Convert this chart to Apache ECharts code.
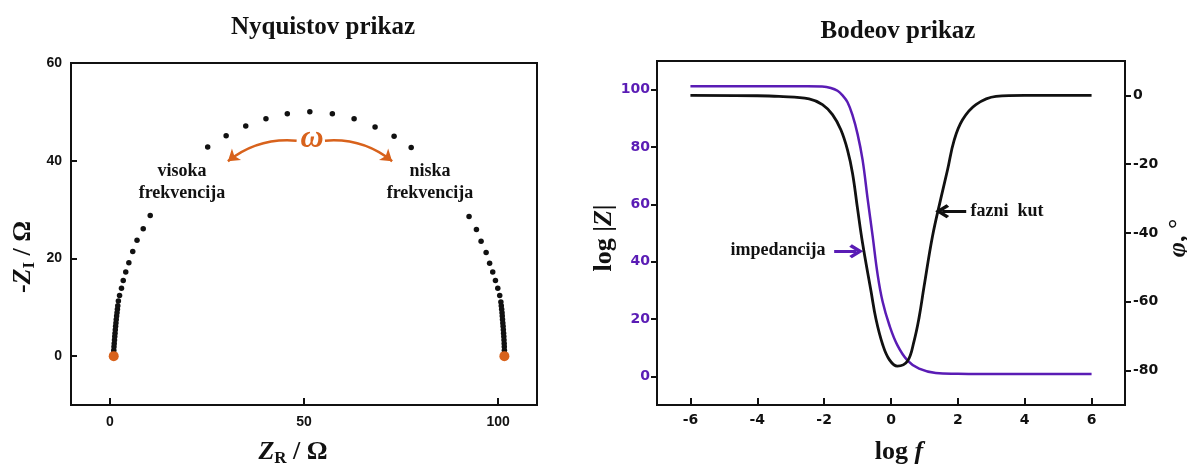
<!DOCTYPE html>
<html>
<head>
<meta charset="utf-8">
<script src="https://cdn.jsdelivr.net/npm/echarts@6/dist/echarts.min.js"></script>
<style>
html, body { margin: 0; padding: 0; background: #fff; }
#chart { width: 1187px; height: 466px; }
</style>
</head>
<body>
<div id="chart"></div>
<script>
// Nyquistov prikaz - tocke (Z_R / Ω, -Z_I / Ω)
var nyqZr = [1.0, 1.02, 1.07, 1.13, 1.2, 1.27, 1.34, 1.41, 1.49, 1.57, 1.65, 1.75, 1.85, 1.95, 2.05,
  2.2, 2.5, 3.0, 3.45, 4.1, 4.9, 5.9, 7.0, 8.6, 10.4,
  25.2, 29.95, 35.0, 40.2, 45.7, 51.5, 57.3, 62.9, 68.3, 73.2, 77.6,
  92.5, 94.4, 95.6, 96.9, 97.8, 98.6, 99.3, 99.9, 100.4, 100.7,
  100.8, 100.9, 101.0, 101.05, 101.12, 101.2, 101.27, 101.33, 101.4, 101.45, 101.5, 101.55, 101.58, 101.6, 101.6];
var nyqZi = [0.6, 1.2, 1.9, 2.6, 3.3, 4.0, 4.7, 5.4, 6.1, 6.8, 7.5, 8.2, 8.9, 9.6, 10.3,
  11.3, 12.4, 13.9, 15.5, 17.2, 19.1, 21.4, 23.7, 26.1, 28.8,
  42.8, 45.1, 47.1, 48.6, 49.6, 50.0, 49.6, 48.6, 46.9, 45.0, 42.7,
  28.6, 25.9, 23.5, 21.2, 19.0, 17.2, 15.5, 13.9, 12.4, 11.1,
  10.3, 9.6, 8.9, 8.2, 7.5, 6.8, 6.1, 5.4, 4.7, 4.0, 3.3, 2.6, 1.9, 1.2, 0.6];
var nyqEndZr = [1.0, 101.6];
var nyqEndZi = [0, 0];

// Bodeov prikaz
var impLogF = [-6, -4, -3, -2.5, -2.06, -1.8, -1.6, -1.45, -1.3, -1.15, -1.0, -0.85, -0.7, -0.55, -0.4, -0.25,
  -0.05, 0.19, 0.49, 0.84, 1.34, 2.0, 2.64, 4, 6];
var impLogZ = [101.2, 101.2, 101.2, 101.2, 101.1, 100.6, 99.6, 98.0, 95.6, 91.0, 84.5, 75.5, 62.0, 49.0, 35.5, 26.0,
  17.9, 10.9, 5.6, 2.7, 1.2, 0.9, 0.8, 0.8, 0.8];
var phaseLogF = [-6, -4, -3.35, -2.45, -2.05, -1.75, -1.5, -1.3, -1.15, -1.0, -0.85, -0.6, -0.45, -0.25,
  -0.05, 0.19, 0.49, 0.69, 0.84, 0.99, 1.24, 1.49, 1.69, 1.89, 2.14, 2.54, 3.14, 4, 6];
var phaseDeg = [0, -0.1, -0.3, -1.0, -2.7, -5.6, -10.0, -15.9, -22.7, -33.0, -43.0, -56.8, -65.0, -72.4,
  -76.8, -78.7, -77.3, -71.4, -64.6, -55.5, -41.0, -30.0, -21.7, -13.0, -7.1, -2.7, -0.3, 0, 0];

var nyqXTicks = [0, 50, 100];
var nyqYTicks = [0, 20, 40, 60];
var bodeXTicks = [-6, -4, -2, 0, 2, 4, 6];
var bodeZTicks = [0, 20, 40, 60, 80, 100];
var bodePhaseTicks = [-80, -60, -40, -20, 0];

var serif = '"Liberation Serif", "Times New Roman", serif';
var orange = '#d8621c';
var purple = '#5a1cb5';
var ink = '#111';

function pairs(xs, ys) {
  return xs.map(function (x, i) { return [x, ys[i]]; });
}

var rich = {
  n: { fontFamily: serif, fontWeight: 'bold', fontSize: 26, lineHeight: 30, color: ink, verticalAlign: 'middle' },
  i: { fontFamily: serif, fontWeight: 'bold', fontStyle: 'italic', fontSize: 26, lineHeight: 30, color: ink, verticalAlign: 'middle' },
  s: { fontFamily: serif, fontWeight: 'bold', fontSize: 17, lineHeight: 14, color: ink, verticalAlign: 'bottom' }
};

var chevron = 'path://M5,0 L10,7 L8.3,8.6 L5,4 L1.7,8.6 L0,7 Z';

var myChart = echarts.init(document.getElementById('chart'));

var option = {
  animation: false,
  backgroundColor: '#fff',
  grid: [
    { left: 71, right: 650, top: 63, bottom: 61, show: true, borderColor: ink, borderWidth: 2, outerBoundsMode: 'none' },
    { left: 657, right: 62, top: 61, bottom: 61, show: true, borderColor: ink, borderWidth: 2, outerBoundsMode: 'none' }
  ],
  xAxis: [
    {
      gridIndex: 0, type: 'value', min: -10, max: 110, interval: 10,
      name: '{i|Z}{s|R}{n| / Ω}', nameLocation: 'middle', nameGap: 32,
      nameTextStyle: { rich: rich, padding: [0, 22, 0, 0] },
      axisLine: { show: false, onZero: false },
      axisTick: { inside: true, length: 7, customValues: nyqXTicks, lineStyle: { color: ink, width: 2 } },
      axisLabel: { customValues: nyqXTicks, margin: 10, color: ink, fontFamily: '"Liberation Sans", Arial, sans-serif', fontWeight: 'bold', fontSize: 14 },
      splitLine: { show: false }
    },
    {
      gridIndex: 1, type: 'value', min: -7, max: 7, interval: 1,
      name: '{n|log }{i|f}', nameLocation: 'middle', nameGap: 32,
      nameTextStyle: { rich: rich, padding: [0, 0, 0, 16] },
      axisLine: { show: false, onZero: false },
      axisTick: { inside: true, length: 7, customValues: bodeXTicks, lineStyle: { color: ink, width: 2 } },
      axisLabel: { customValues: bodeXTicks, margin: 8, color: ink, fontFamily: '"DejaVu Sans", sans-serif', fontWeight: 'bold', fontSize: 14 },
      splitLine: { show: false }
    }
  ],
  yAxis: [
    {
      gridIndex: 0, type: 'value', min: -10, max: 60, interval: 10,
      name: '{n|-}{i|Z}{s|I}{n| / Ω}', nameLocation: 'middle', nameGap: 33, nameRotate: 90,
      nameTextStyle: { rich: rich, padding: [0, 46, 0, 0] },
      axisLine: { show: false, onZero: false },
      axisTick: { inside: true, length: 6, customValues: nyqYTicks, lineStyle: { color: ink, width: 2 } },
      axisLabel: { customValues: nyqYTicks, margin: 9, color: ink, fontFamily: '"Liberation Sans", Arial, sans-serif', fontWeight: 'bold', fontSize: 14 },
      splitLine: { show: false }
    },
    {
      gridIndex: 1, type: 'value', position: 'left', min: -10, max: 110, interval: 10,
      name: '{n|log |}{i|Z}{n||}', nameLocation: 'middle', nameGap: 27, nameRotate: 90,
      nameTextStyle: { rich: rich, padding: [0, 10, 0, 0] },
      axisLine: { show: false, onZero: false },
      axisTick: { inside: false, length: 6, customValues: bodeZTicks, lineStyle: { color: ink, width: 2 } },
      axisLabel: { customValues: bodeZTicks, margin: 7, color: purple, fontFamily: '"DejaVu Sans", sans-serif', fontWeight: 'bold', fontSize: 14 },
      splitLine: { show: false }
    },
    {
      gridIndex: 1, type: 'value', position: 'right', min: -90, max: 10, interval: 10,
      name: '{i|φ}{n|, °}', nameLocation: 'middle', nameGap: 38, nameRotate: 90,
      nameTextStyle: { rich: rich, padding: [0, 10, 0, 0] },
      axisLine: { show: false, onZero: false },
      axisTick: { inside: false, length: 6, customValues: bodePhaseTicks, lineStyle: { color: ink, width: 2 } },
      axisLabel: { customValues: bodePhaseTicks, margin: 8, color: ink, fontFamily: '"DejaVu Sans", sans-serif', fontWeight: 'bold', fontSize: 14 },
      splitLine: { show: false }
    }
  ],
  graphic: [
    { type: 'text', x: 323, y: 28, style: { text: 'Nyquistov prikaz', font: 'bold 25px ' + serif, fill: ink, align: 'center', verticalAlign: 'middle' } },
    { type: 'text', x: 898, y: 32, style: { text: 'Bodeov prikaz', font: 'bold 25px ' + serif, fill: ink, align: 'center', verticalAlign: 'middle' } },
    { type: 'text', x: 182, y: 182, style: { text: 'visoka\nfrekvencija', font: 'bold 18px ' + serif, lineHeight: 22, fill: ink, align: 'center', verticalAlign: 'middle' } },
    { type: 'text', x: 430, y: 182, style: { text: 'niska\nfrekvencija', font: 'bold 18px ' + serif, lineHeight: 22, fill: ink, align: 'center', verticalAlign: 'middle' } },
    { type: 'text', x: 312, y: 139, style: { text: 'ω', font: 'italic bold 32px ' + serif, fill: orange, align: 'center', verticalAlign: 'middle' } },
    { type: 'text', x: 778, y: 250, style: { text: 'impedancija', font: 'bold 18px ' + serif, fill: ink, align: 'center', verticalAlign: 'middle' } },
    { type: 'text', x: 1007, y: 211, style: { text: 'fazni  kut', font: 'bold 18px ' + serif, fill: ink, align: 'center', verticalAlign: 'middle' } }
  ],
  series: [
    {
      type: 'scatter', xAxisIndex: 0, yAxisIndex: 0,
      data: pairs(nyqZr, nyqZi), symbolSize: 5.5,
      itemStyle: { color: ink, opacity: 1 }
    },
    {
      type: 'scatter', xAxisIndex: 0, yAxisIndex: 0, z: 5,
      data: pairs(nyqEndZr, nyqEndZi), symbolSize: 10,
      itemStyle: { color: orange, opacity: 1 }
    },
    {
      type: 'lines', coordinateSystem: 'cartesian2d', xAxisIndex: 0, yAxisIndex: 0,
      symbol: ['none', 'arrow'], symbolSize: 11,
      lineStyle: { color: orange, width: 2.5, opacity: 1 },
      data: [
        { coords: [[48.1, 44.1], [30.4, 39.9]], lineStyle: { curveness: -0.2 } },
        { coords: [[55.4, 44.1], [72.7, 39.9]], lineStyle: { curveness: 0.2 } }
      ]
    },
    {
      type: 'line', xAxisIndex: 1, yAxisIndex: 1,
      data: pairs(impLogF, impLogZ), showSymbol: false, smooth: 0.4,
      lineStyle: { color: purple, width: 2.5 }
    },
    {
      type: 'line', xAxisIndex: 1, yAxisIndex: 2,
      data: pairs(phaseLogF, phaseDeg), showSymbol: false, smooth: 0.4,
      lineStyle: { color: ink, width: 2.8 }
    },
    {
      type: 'lines', coordinateSystem: 'cartesian2d', xAxisIndex: 1, yAxisIndex: 1,
      symbol: ['none', chevron], symbolSize: 14,
      lineStyle: { color: purple, width: 3, opacity: 1 },
      data: [{ coords: [[-1.70, 43.6], [-1.04, 43.6]] }]
    },
    {
      type: 'lines', coordinateSystem: 'cartesian2d', xAxisIndex: 1, yAxisIndex: 2,
      symbol: ['none', chevron], symbolSize: 14,
      lineStyle: { color: ink, width: 3, opacity: 1 },
      data: [{ coords: [[2.25, -33.7], [1.53, -33.7]] }]
    }
  ]
};

myChart.setOption(option);
</script>
</body>
</html>
